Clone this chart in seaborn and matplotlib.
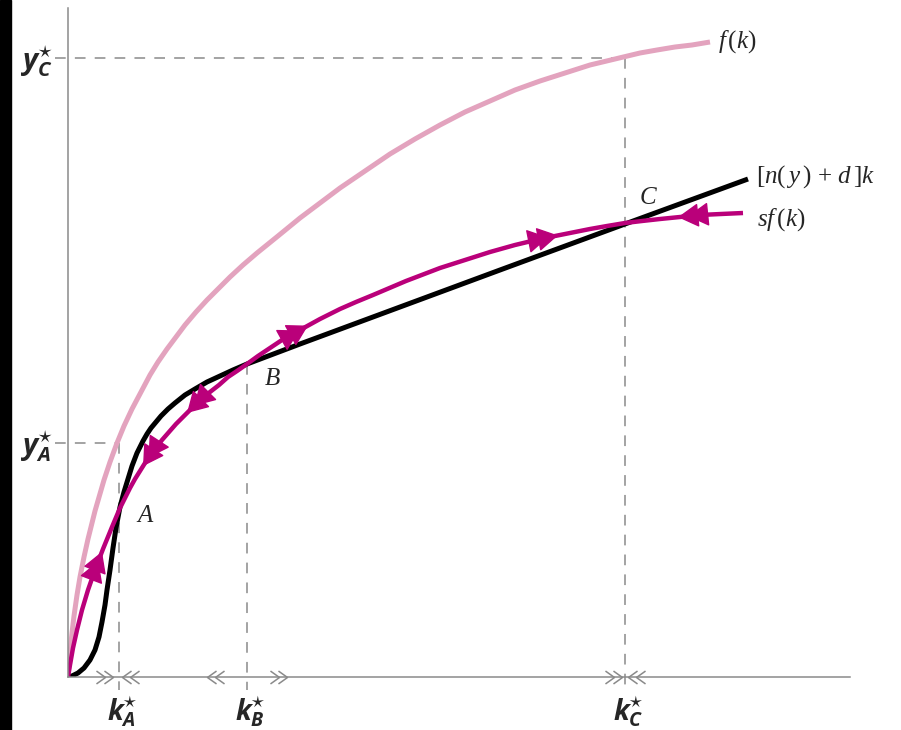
import numpy as np
import matplotlib
matplotlib.use("Agg")
import matplotlib.pyplot as plt
from matplotlib.path import Path
from matplotlib.patches import Rectangle
import seaborn as sns

# production function f(k)
k_f = [0, .02, .04, .06, .09, .12, .16, .20, .27, .36, .42, .49, .56, .64, .73, .82,
       .90, .99, 1.08, 1.17, 1.28, 1.39, 1.50, 1.62, 1.75, 1.89, 2.10, 2.32, 2.52,
       2.72, 2.97, 3.22, 3.47, 3.72, 3.97, 4.22, 4.47, 4.72, 4.97, 5.22, 5.47, 5.72,
       5.89, 6.07, 6.24, 6.42]
y_f = [0, .24, .44, .61, .82, 1.00, 1.20, 1.38, 1.66, 1.97, 2.15, 2.34, 2.51, 2.68,
       2.85, 3.02, 3.15, 3.28, 3.40, 3.52, 3.65, 3.77, 3.88, 4.00, 4.12, 4.24, 4.41,
       4.59, 4.74, 4.89, 5.06, 5.23, 5.38, 5.52, 5.65, 5.76, 5.87, 5.96, 6.04, 6.12,
       6.18, 6.24, 6.27, 6.30, 6.32, 6.35]

# saving curve sf(k)
k_sf = [0, .02, .05, .09, .14, .20, .27, .35, .44, .52, .57, .62, .67, .72, .77, .82,
        .88, .94, 1.01, 1.08, 1.16, 1.24, 1.33, 1.42, 1.51, 1.60, 1.69, 1.79, 1.90,
        2.02, 2.17, 2.32, 2.52, 2.72, 2.88, 3.05, 3.38, 3.72, 3.97, 4.22, 4.47, 4.72,
        4.97, 5.22, 5.39, 5.57, 5.74, 5.92, 6.12, 6.32, 6.53, 6.75]
y_sf = [0, .12, .29, .47, .67, .87, 1.07, 1.28, 1.50, 1.69, 1.79, 1.89, 1.98, 2.06,
        2.14, 2.21, 2.29, 2.37, 2.45, 2.53, 2.61, 2.69, 2.77, 2.85, 2.92, 3.00, 3.06,
        3.13, 3.21, 3.29, 3.39, 3.47, 3.58, 3.68, 3.75, 3.82, 3.96, 4.09, 4.17, 4.25,
        4.32, 4.38, 4.43, 4.48, 4.51, 4.54, 4.56, 4.58, 4.60, 4.62, 4.63, 4.64]

# break-even investment [n(y) + d]k
k_bi = [0, .04, .10, .16, .22, .27, .31, .34, .37, .39, .42, .45, .48, .52, .56, .60,
        .64, .69, .75, .79, .83, .88, .93, 1.00, 1.07, 1.17, 1.27, 1.39, 1.52, 1.65,
        1.79, 2.32, 3.32, 4.32, 5.57, 6.80]
y_bi = [0, .01, .04, .09, .17, .27, .40, .55, .72, .87, 1.07, 1.29, 1.49, 1.70, 1.85,
        1.98, 2.11, 2.24, 2.36, 2.43, 2.49, 2.55, 2.61, 2.68, 2.74, 2.82, 2.88, 2.95,
        3.01, 3.07, 3.13, 3.33, 3.70, 4.07, 4.53, 4.98]

# steady states
eq_names = ["A", "B", "C"]
k_star = [0.51, 1.79, 5.57]
y_eq = [1.68, 3.13, 4.54]        # where sf(k) crosses the line
y_guide = [2.34, 3.13, 6.19]     # top of the vertical guides
y_star_names = ["A", "C"]
y_star = [2.34, 6.19]

# arrows on sf(k): position and direction
arrow_k = [0.34, 0.75, 1.19, 2.40, 4.90, 6.10]
arrow_dir = [1, -1, -1, 1, 1, -1]

# chevrons on the k axis: tip position and direction
chev_k = [0.45, 0.54, 1.39, 2.19, 5.54, 5.60]
chev_dir = [1, -1, -1, 1, 1, -1]

pink = "#E3A3BE"
magenta = "#BA007A"
grey = "#8a8a8a"

sns.set_theme(style="white")
plt.rcParams["mathtext.fontset"] = "custom"
plt.rcParams["mathtext.rm"] = "Liberation Serif"
plt.rcParams["mathtext.it"] = "Liberation Serif:italic"
plt.rcParams["mathtext.bf"] = "Open Sans:bold:italic"

fig = plt.figure(figsize=(9.01, 7.30), dpi=100)
fig.patches.append(Rectangle((0, 0), 11 / 901, 1, transform=fig.transFigure,
                             color="black", zorder=0))
ax = fig.add_axes([68 / 901, 53 / 730, 782 / 901, 669 / 730])
ax.set_xlim(0, 7.82)
ax.set_ylim(0, 6.69)

# Curves
line_kw = dict(sort=False, ax=ax, solid_joinstyle="round", solid_capstyle="butt")
sns.lineplot(x=k_f, y=y_f, color=pink, lw=3.6, **line_kw)
sns.lineplot(x=k_bi, y=y_bi, color="black", lw=3.6, **line_kw)
sns.lineplot(x=k_sf, y=y_sf, color=magenta, lw=3.2, **line_kw)

# Guide lines
dash = dict(color=grey, lw=1.1, dashes=(7, 6), clip_on=False, zorder=1)
for k, yg in zip(k_star, y_guide):
    ax.plot([k, k], [yg, -0.13], **dash)
for k, ys in zip([k_star[0], k_star[2]], y_star):
    ax.plot([-0.13, k], [ys, ys], **dash)

# Axes
for s in ["top", "right"]:
    ax.spines[s].set_visible(False)
for s in ["left", "bottom"]:
    ax.spines[s].set_color(grey)
    ax.spines[s].set_linewidth(1.1)
ax.set_xticks([])
ax.set_yticks([])
ax.set_xlabel("")
ax.set_ylabel("")

# Axis labels
for name, k in zip(eq_names, k_star):
    ax.text(k + 0.03, -0.175, r"$\mathbf{k}^{\star}_{\mathbf{%s}}$" % name, ha="center",
            va="top", fontsize=20, clip_on=False)
for name, ys in zip(y_star_names, y_star):
    ax.text(-0.15, ys - 0.03, r"$\mathbf{y}^{\star}_{\mathbf{%s}}$" % name, ha="right",
            va="center", fontsize=21, clip_on=False)

# Steady state letters
offsets = [(12, -4), (12, -10), (10, 19)]
for name, k, y, off in zip(eq_names, k_star, y_eq, offsets):
    ax.annotate(r"$%s$" % name, (k, y), xytext=off, textcoords="offset points",
                ha="left", va="center", fontsize=18)

# Curve labels
ax.annotate(r"$f\,(k)$", (k_f[-1], y_f[-1]), xytext=(6, 0), textcoords="offset points",
            ha="left", va="center", fontsize=18, annotation_clip=False)
ax.annotate(r"$[n(\,y\,)\,+\,d\,]k$", (k_bi[-1], y_bi[-1]), xytext=(6, 2),
            textcoords="offset points", ha="left", va="center", fontsize=18,
            annotation_clip=False)
ax.annotate(r"$sf\,(k)$", (k_sf[-1], y_sf[-1]), xytext=(10, -5),
            textcoords="offset points", ha="left", va="center", fontsize=18,
            annotation_clip=False)

# Double arrowheads on sf(k)
for k0, d in zip(arrow_k, arrow_dir):
    p0 = ax.transData.transform((k0, np.interp(k0, k_sf, y_sf)))
    kb = k0 - d * 0.03
    p1 = ax.transData.transform((kb, np.interp(kb, k_sf, y_sf)))
    u = (p0 - p1) / np.hypot(*(p0 - p1))
    for i in range(2):
        tip = p0 - i * 10 * u
        ax.annotate("", xy=tip, xytext=tip - 13 * u, xycoords="figure pixels",
                    textcoords="figure pixels",
                    arrowprops=dict(arrowstyle="-|>,head_length=0.55,head_width=0.32",
                                    color=magenta, lw=1, mutation_scale=24,
                                    shrinkA=0, shrinkB=0))

# Chevrons on the k axis
chev = Path([(-1.4, 1), (0, 0), (-1.4, -1)], [Path.MOVETO, Path.LINETO, Path.LINETO])
chev_l = Path([(1.4, 1), (0, 0), (1.4, -1)], [Path.MOVETO, Path.LINETO, Path.LINETO])
for k, d in zip(chev_k, chev_dir):
    m = chev if d > 0 else chev_l
    ax.plot([k, k - d * 0.08], [0, 0], ls="none", marker=m, ms=13, mfc="none",
            mec=grey, mew=1.1, clip_on=False)

fig.savefig("out.png", dpi=100)
